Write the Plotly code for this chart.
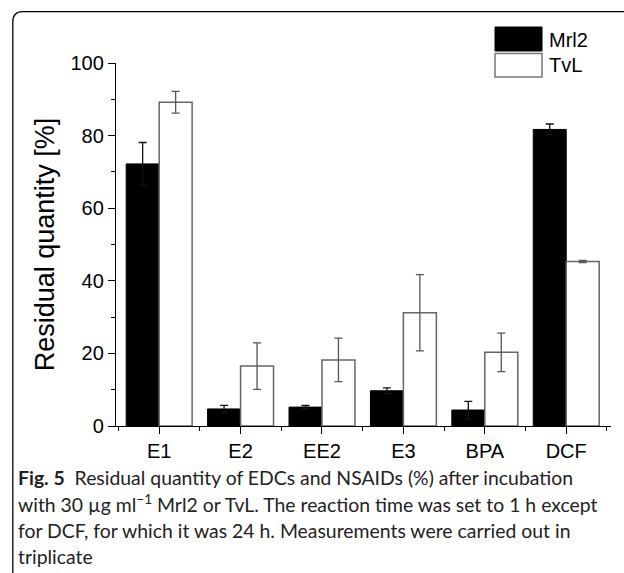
import plotly.graph_objects as go

categories = ["E1", "E2", "EE2", "E3", "BPA", "DCF"]
mrl2 = [72.2, 4.7, 5.2, 9.7, 4.4, 81.7]
mrl2_err = [5.9, 1.0, 0.45, 0.8, 2.4, 1.5]
tvl = [89.2, 16.5, 18.2, 31.2, 20.3, 45.3]
tvl_err = [3.0, 6.4, 6.0, 10.5, 5.3, 0.3]
y_ticks = [0, 20, 40, 60, 80, 100]
legend_names = ["Mrl2", "TvL"]
caption_lines = [
    "<b>Fig. 5</b>  Residual quantity of EDCs and NSAIDs (%) after incubation",
    "with 30 µg ml<sup>−1</sup> Mrl2 or TvL. The reaction time was set to 1 h except",
    "for DCF, for which it was 24 h. Measurements were carried out in",
    "triplicate",
]

W, H = 624, 573
L, R, T, B = 116, 13, 63, 147
PW, PH = W - L - R, H - T - B


def px(x):
    return (x - L) / PW


def py(y):
    return (H - B - y) / PH


xs = list(range(len(categories)))

fig = go.Figure()
fig.add_trace(go.Bar(
    x=xs, y=mrl2, name=legend_names[0],
    marker=dict(color="black", line=dict(color="black", width=1)),
    error_y=dict(type="data", array=mrl2_err, color="#111111", thickness=1.3, width=4),
    showlegend=False,
))
fig.add_trace(go.Bar(
    x=xs, y=tvl, name=legend_names[1],
    marker=dict(color="white", line=dict(color="#666666", width=1.5)),
    error_y=dict(type="data", array=tvl_err, color="#555555", thickness=1.3, width=4),
    showlegend=False,
))

axis_font = dict(family="Liberation Sans, Arial, sans-serif", size=20, color="black")

fig.update_layout(
    width=W, height=H,
    margin=dict(l=L, r=R, t=T, b=B, pad=0),
    paper_bgcolor="white", plot_bgcolor="white",
    barmode="group", bargap=0.19, bargroupgap=0,
    xaxis=dict(
        range=[-0.53, 5.55], tickmode="array", tickvals=xs, ticktext=categories,
        showgrid=False, zeroline=False, showline=True, linecolor="black", linewidth=1.3,
        ticks="outside", ticklen=7, tickwidth=1.3, tickcolor="black",
        tickfont=axis_font,
        minor=dict(tickmode="linear", tick0=0.5, dtick=1, ticks="outside", ticklen=4,
                   tickwidth=1.3, tickcolor="black", showgrid=False),
    ),
    yaxis=dict(
        range=[0, 100], tickmode="array", tickvals=y_ticks,
        showgrid=False, zeroline=False, showline=True, linecolor="black", linewidth=1.3,
        ticks="outside", ticklen=7, tickwidth=1.3, tickcolor="black",
        tickfont=axis_font,
        minor=dict(tickmode="linear", tick0=10, dtick=20, ticks="outside", ticklen=4,
                   tickwidth=1.3, tickcolor="black", showgrid=False),
        title=dict(text="Residual quantity [%]",
                   font=dict(family="Liberation Sans, Arial, sans-serif", size=27, color="black"),
                   standoff=8),
    ),
    showlegend=False,
)

# rounded frame around the figure
r = 10
path = (f"M {px(12.8)} {py(600)} L {px(12.8)} {py(11.7 + r)} "
        f"Q {px(12.8)} {py(11.7)} {px(12.8 + r)} {py(11.7)} L {px(640)} {py(11.7)}")
fig.add_shape(type="path", path=path, xref="paper", yref="paper",
              line=dict(color="black", width=1.3), layer="above")

# legend boxes
fig.add_shape(type="rect", xref="paper", yref="paper",
              x0=px(495), x1=px(542), y0=py(27), y1=py(51),
              fillcolor="black", line=dict(color="black", width=1))
fig.add_shape(type="rect", xref="paper", yref="paper",
              x0=px(495), x1=px(542), y0=py(53.5), y1=py(77),
              fillcolor="white", line=dict(color="#777777", width=1.5))
for name, yc in zip(legend_names, [40, 65]):
    fig.add_annotation(x=px(547), y=py(yc), xref="paper", yref="paper",
                       text=name, showarrow=False, xanchor="left", yanchor="middle",
                       font=axis_font)

# caption, one annotation per line
for line, yc in zip(caption_lines, [477, 503.5, 530, 556.5]):
    fig.add_annotation(x=px(16), y=py(yc), xref="paper", yref="paper",
                       text=line, showarrow=False, xanchor="left", yanchor="middle",
                       align="left",
                       font=dict(family="Lato, sans-serif", size=19.4, color="#222222"))

fig.write_html("out.html", config={"displayModeBar": False},
               post_script="document.body.style.margin='0px';")
